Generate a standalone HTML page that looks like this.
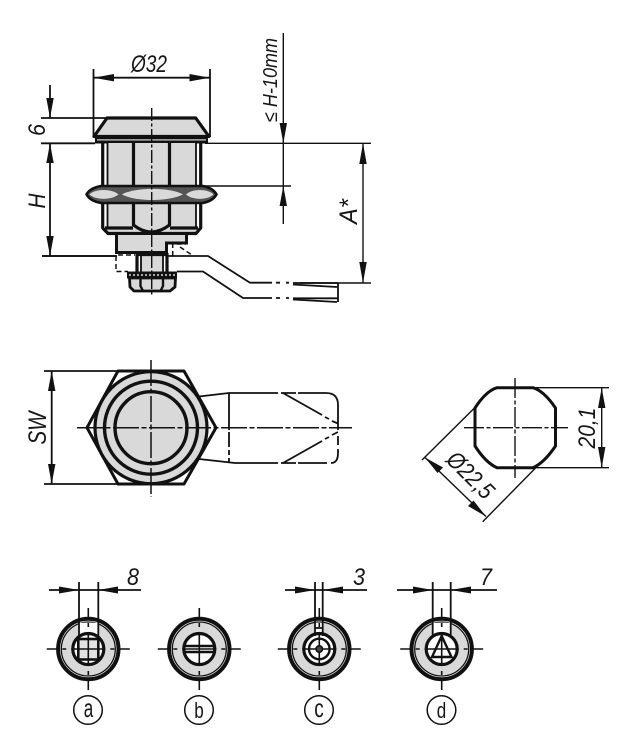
<!DOCTYPE html>
<html><head><meta charset="utf-8"><style>
html,body{margin:0;padding:0;background:#fff;width:635px;height:750px;overflow:hidden}
svg{display:block}
text{font-family:"Liberation Sans",sans-serif;fill:#161616}
.i{font-style:italic}
.t{stroke:#111;stroke-width:1.4;fill:none}
.m{stroke:#111;stroke-width:1.8;fill:none}
.k{stroke:#111;stroke-width:3.2;fill:none;stroke-linejoin:round}
.d{stroke:#111;stroke-width:1.5;fill:none;stroke-dasharray:5 3}
.a{fill:#111;stroke:none}
.g{fill:#d9d9d9}
.x{stroke:#111;stroke-width:1.6;fill:none}
</style></head><body>
<svg width="635" height="750" viewBox="0 0 635 750" xmlns="http://www.w3.org/2000/svg">
<defs>
<g id="base">
<circle r="30.2" fill="#fff" stroke="#111" stroke-width="4"/>
<circle r="27" class="g" stroke="#111" stroke-width="1.3"/>
</g>
<circle id="inner" r="15.5" fill="#fff" stroke="#111" stroke-width="3.2"/>
<path id="cross" class="x" d="M0 -41V-29M0 -26V-22M0 -16V16M0 22V26M0 29V41M-41.5 0H-29M-26 0H-22M-17 0H17M22 0H26M29 0H41.5"/>
</defs>
<!-- ===== side view dimensions ===== -->
<path class="m" d="M93.5 69V137M210 69V137M93.5 77.7H210"/>
<polygon class="a" points="93.5,77.7 114,74 114,81.4"/>
<polygon class="a" points="210,77.7 189.5,74 189.5,81.4"/>
<text class="i" x="131" y="72" font-size="24" textLength="36" lengthAdjust="spacingAndGlyphs">Ø32</text>
<path class="m" d="M41 118H108M41 143.3H95M50 85V118M50 143.3V256M42 256H117"/>
<polygon class="a" points="50,118 46.3,98 53.7,98"/>
<polygon class="a" points="50,143.3 46.3,163 53.7,163"/>
<polygon class="a" points="50,256 46.3,236 53.7,236"/>
<text class="i" transform="translate(45,130) rotate(-90)" text-anchor="middle" font-size="24" textLength="12" lengthAdjust="spacingAndGlyphs">6</text>
<text class="i" transform="translate(45,201) rotate(-90)" text-anchor="middle" font-size="24" textLength="15" lengthAdjust="spacingAndGlyphs">H</text>
<path class="t" d="M205 143.3H371M205 186H291M283.3 33V224M300 283H371M363 143.3V283"/>
<polygon class="a" points="283.3,143.3 279.6,123 287,123"/>
<polygon class="a" points="283.3,186 279.6,206 287,206"/>
<polygon class="a" points="363,143.3 359.3,164 366.7,164"/>
<polygon class="a" points="363,283 359.3,262 366.7,262"/>
<text class="i" transform="translate(277,122) rotate(-90)" font-size="20" textLength="84" lengthAdjust="spacingAndGlyphs">≤ H-10mm</text>
<text class="i" transform="translate(357,224) rotate(-90)" font-size="25" textLength="25" lengthAdjust="spacingAndGlyphs">A*</text>

<!-- ===== side view part ===== -->
<polygon class="g" points="107,118 195.7,118 209,137 94,137"/>
<path class="k" d="M107 118H195.7L209 136.5H94Z"/>
<rect x="95" y="137" width="113" height="6.5" fill="#111"/>
<rect x="97" y="139.3" width="109" height="1.2" fill="#d9d9d9"/>
<rect x="107" y="143" width="89" height="90" class="g"/>
<path class="k" d="M102.7 143V186M200.7 143V186M133.5 143V186M169.5 143V186"/>
<path class="m" d="M107.5 143V186M196 143V186"/>
<!-- lower hex -->
<path d="M102.7 203V228L108 233.5H196L200.7 228V203Z" class="g"/>
<path d="M103 203H107.5V228H103ZM196 203H200.5V228H196Z" fill="#fff"/>
<path class="k" d="M102.7 203V228L108 233.5H196L200.7 228V203M133.5 203V225Q151 239 169.5 225V203"/>
<path class="m" d="M107.5 203V228M196 203V228"/>
<path class="k" d="M105 228H133M170 228H198"/>
<!-- nut -->
<path d="M86.5 194.4Q90 188 101 186H203Q213 188 216.5 194.4Q213 201 203 203H101Q90 201 86.5 194.4Z" fill="#555" stroke="#111" stroke-width="2.6" stroke-linejoin="round"/>
<path d="M89.5 194.4C95 188.5 112 188.5 118.5 194.4C112 200.3 95 200.3 89.5 194.4Z" fill="#d9d9d9"/>
<path d="M122 194.4C135 187 170 187 183 194.4C170 201.8 135 201.8 122 194.4Z" fill="#d9d9d9"/>
<path d="M186 194.4C192 188.5 208 188.5 213.5 194.4C208 200.3 192 200.3 186 194.4Z" fill="#d9d9d9"/>
<!-- collar -->
<path d="M116.5 233.5V252.5H166.5V243H186.5V233.5Z" fill="#d9d9d9" stroke="#111" stroke-width="3" stroke-linejoin="miter"/>
<!-- stud -->
<rect x="137" y="253" width="30" height="19" fill="#fff"/>
<rect x="141" y="255" width="22" height="17" class="g"/>
<path class="k" d="M137 253V272M167 253V272M137 254.5H167"/>
<path class="m" d="M141 254V272M163 254V272"/>
<rect x="127" y="271.5" width="50" height="7" fill="#111"/>
<path d="M129 275H175" stroke="#fff" stroke-width="1.3" stroke-dasharray="2 2" fill="none"/>
<path d="M129.5 278H175.5L175 287L170 291H134L130 287Z" fill="#d9d9d9" stroke="#111" stroke-width="2.8" stroke-linejoin="round"/>
<path class="k" style="stroke-width:2.4" d="M140.5 278V286L143 291M163 278V286L160.5 291"/>
<!-- cam side -->
<path class="m" d="M42 256H116M168 256H208L250 282.7H272M177 271.5H203L243 298H272"/>
<path class="m" d="M276 282.7H280M286 282.7H289M276 298H280M286 298H289"/>
<path class="m" d="M293 283H338M293 298.3H338M338 282.7V302"/>
<path class="m" d="M293 284.5L337 287M293 299.5L337 302"/>
<path class="d" d="M116 256V271.5H128M118 255H135M172.7 256V244H186M180 247L192 255"/>
<path d="M151.7 108V296" stroke="#111" stroke-width="1.4" fill="none" stroke-dasharray="13 2.5 3 2.5"/>

<!-- ===== top view ===== -->
<path class="m" d="M44 371H118M44 484H118M51.7 371V484"/>
<polygon class="a" points="51.7,371 48,391 55.4,391"/>
<polygon class="a" points="51.7,484 48,464 55.4,464"/>
<text class="i" transform="translate(46,428) rotate(-90)" text-anchor="middle" font-size="25" textLength="33" lengthAdjust="spacingAndGlyphs">SW</text>
<!-- cam -->
<path class="m" d="M199 396.5L229 393H278M281 393H296M298 393H326Q338 393 338 405V430M338 436V445M338 449V453Q338 463 331 463M327 463H298M296 463H281M278 463H235L199 459M229 393V430M229 432V447M229 450V455M229 458V463"/>
<path class="m" d="M283 393L322 415M325 417L329 419M332 421L338 423.5M283 463L322 441M325 439L329 437M332 435L338 432"/>
<!-- hex + circles -->
<polygon points="87,427.7 118,371 184,371 216,427.7 184,484 118,484" fill="#fff" stroke="#111" stroke-width="3" stroke-linejoin="round"/>
<circle cx="151" cy="427.7" r="56" class="g" stroke="#111" stroke-width="3.2"/>
<circle cx="151" cy="427.7" r="46.5" class="g" stroke="#111" stroke-width="3.4"/>
<circle cx="151" cy="427.7" r="36" class="g" stroke="#111" stroke-width="3.4"/>
<path d="M151 360V497M77 427.7H352" stroke="#111" stroke-width="1.5" fill="none" stroke-dasharray="26 2.5 5 2.5"/>

<!-- ===== octagon ===== -->
<path d="M497 387.7H533Q544 391 555.5 408V446Q544 463 533 467.7H497Q486 463 475 446V408Q486 391 497 387.7Z" fill="#fff" stroke="#111" stroke-width="3" stroke-linejoin="round"/>
<path d="M515 378V478M464 427.7H568" stroke="#111" stroke-width="1.4" fill="none" stroke-dasharray="20 2.5 4 2.5"/>
<path class="t" d="M533 387.7H609M533 467.7H609M601.7 387.7V467.7"/>
<polygon class="a" points="601.7,387.7 598,408 605.4,408"/>
<polygon class="a" points="601.7,467.7 598,447 605.4,447"/>
<text class="i" transform="translate(595,428) rotate(-90)" text-anchor="middle" font-size="24" textLength="41" lengthAdjust="spacingAndGlyphs">20,1</text>
<path class="t" d="M422 460L476 406.5M482.7 521.7L537 466.5M425 457.5L486 516.5"/>
<polygon class="a" points="425,457.5 443,467.5 437.5,473"/>
<polygon class="a" points="486,516.5 468,506 473.5,500.5"/>
<text class="i" transform="translate(445,461) rotate(45)" font-size="24" textLength="56" lengthAdjust="spacingAndGlyphs">Ø22,5</text>

<!-- ===== a ===== -->
<path class="m" d="M49 590H141"/>
<polygon class="a" points="79,590 59,586.5 59,593.5"/>
<polygon class="a" points="98.3,590 118,586.5 118,593.5"/>
<use href="#base" transform="translate(88.3,649)"/>
<rect x="79" y="622.7" width="19.3" height="12" fill="#fff"/>
<use href="#inner" transform="translate(88.3,649)"/>
<path class="m" d="M79 582V636M98.3 582V636"/>
<rect x="78.3" y="639" width="20" height="20.5" fill="#e2e2e2" stroke="#111" stroke-width="2.6"/>
<use href="#cross" transform="translate(88.3,649)"/>
<text class="i" x="127" y="585" font-size="24" textLength="12" lengthAdjust="spacingAndGlyphs">8</text>
<circle cx="88" cy="710" r="14.3" fill="#fff" stroke="#111" stroke-width="1.5"/>
<text x="88.5" y="717" text-anchor="middle" font-size="26" textLength="9.5" lengthAdjust="spacingAndGlyphs">a</text>

<!-- ===== b ===== -->
<use href="#base" transform="translate(199.3,649)"/>
<use href="#inner" transform="translate(199.3,649)"/>
<path d="M184 646H215M184 652H215" stroke="#111" stroke-width="2.4" fill="none"/>
<use href="#cross" transform="translate(199.3,649)"/>
<circle cx="199" cy="710" r="14.3" fill="#fff" stroke="#111" stroke-width="1.5"/>
<text x="199" y="718" text-anchor="middle" font-size="22" textLength="9.5" lengthAdjust="spacingAndGlyphs">b</text>

<!-- ===== c ===== -->
<path class="m" d="M285 590H367"/>
<polygon class="a" points="315,590 295,586.5 295,593.5"/>
<polygon class="a" points="323,590 343,586.5 343,593.5"/>
<use href="#base" transform="translate(319.3,649)"/>
<rect x="315" y="622.7" width="7.7" height="12" fill="#fff"/>
<use href="#inner" transform="translate(319.3,649)"/>
<path class="m" d="M315 582V636M322.7 582V636M315 628H323"/>
<path d="M309 649A10.3 10.3 0 0 1 329.6 649M309 649A10.3 10.3 0 0 0 329.6 649" stroke="#111" stroke-width="2.4" fill="none"/>
<use href="#cross" transform="translate(319.3,649)"/>
<circle cx="319.3" cy="649" r="3.2" fill="#444" stroke="#111" stroke-width="1.6"/>
<text class="i" x="353" y="585" font-size="24" textLength="12" lengthAdjust="spacingAndGlyphs">3</text>
<circle cx="319" cy="710" r="14.3" fill="#fff" stroke="#111" stroke-width="1.5"/>
<text x="319" y="717" text-anchor="middle" font-size="26" textLength="9.5" lengthAdjust="spacingAndGlyphs">c</text>

<!-- ===== d ===== -->
<path class="m" d="M397 590H497"/>
<polygon class="a" points="432.7,590 413,586.5 413,593.5"/>
<polygon class="a" points="450.7,590 471,586.5 471,593.5"/>
<use href="#base" transform="translate(441.7,649)"/>
<rect x="432.7" y="622.7" width="18" height="12" fill="#fff"/>
<use href="#inner" transform="translate(441.7,649)"/>
<path class="m" d="M432.7 582V636M450.7 582V636"/>
<polygon points="441.7,636 432,657 451.5,657" fill="none" stroke="#111" stroke-width="2.4" stroke-linejoin="miter"/>
<use href="#cross" transform="translate(441.7,649)"/>
<text class="i" x="480" y="585" font-size="24" textLength="12" lengthAdjust="spacingAndGlyphs">7</text>
<circle cx="441.5" cy="710" r="14.3" fill="#fff" stroke="#111" stroke-width="1.5"/>
<text x="441.5" y="718" text-anchor="middle" font-size="22" textLength="9.5" lengthAdjust="spacingAndGlyphs">d</text>
</svg>
</body></html>
